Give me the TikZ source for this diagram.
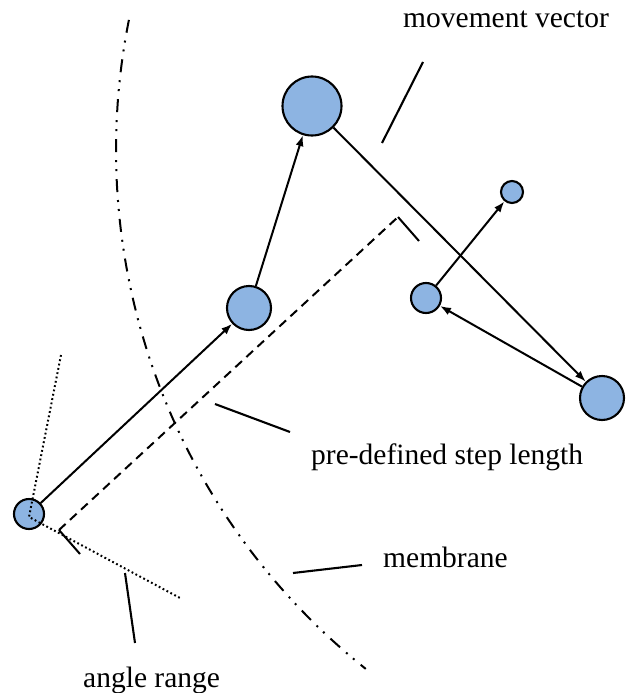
\documentclass[tikz,border=0pt]{standalone}
\usepackage{fontspec}
\setmainfont{Liberation Serif}
\usetikzlibrary{arrows.meta}
\definecolor{cellblue}{RGB}{141,180,226}
\begin{document}
\begin{tikzpicture}[x=1pt,y=-1pt,
  cell/.style={circle,draw=black,line width=2.1pt,fill=cellblue,inner sep=0pt},
  move/.style={line width=2pt,-{Latex[length=11pt,width=8pt]}},
  leader/.style={line width=2.1pt},
  steplen/.style={line width=2pt,dash pattern=on 9pt off 6pt},
  tickline/.style={line width=2pt},
  anglerange/.style={line width=2pt,dash pattern=on 1.8pt off 2.6pt},
  membraneline/.style={line width=2pt,dash pattern=on 13pt off 8pt on 2pt off 7pt on 2pt off 8pt},
  caption/.style={font=\fontsize{29.5}{34}\selectfont,anchor=base west,inner sep=0pt}]
\useasboundingbox (0,0) rectangle (628,693);

% membrane boundary: a dash-dot-dot arc
\draw[membraneline] plot[domain=191.3:128.6,samples=80] ({780+664*cos(\x)},{150+664*sin(\x)});

% cells along the walk
\node[cell,minimum size=30pt] (A) at (29,514) {};
\node[cell,minimum size=44pt] (B) at (249,308) {};
\node[cell,minimum size=59pt] (C) at (312,106) {};
\node[cell,minimum size=22pt] (D) at (512,192) {};
\node[cell,minimum size=30pt] (E) at (426,298) {};
\node[cell,minimum size=44pt] (F) at (602,398) {};

% movement vectors
\draw[move] (A) -- (B);
\draw[move] (B) -- (C);
\draw[move] (C) -- (F);
\draw[move] (F) -- (E);
\draw[move] (E) -- (D);

% step length dimension line
\coordinate (s0) at (59,530);
\coordinate (s1) at (398,217);
\coordinate (t0) at (80,554);
\coordinate (t1) at (419,241);
\draw[steplen] (s0) -- (s1);
\draw[tickline] (t0) -- (s0);
\draw[tickline] (s1) -- (t1);

% angle range
\coordinate (apex) at (29,517);
\coordinate (r1) at (61,355);
\coordinate (r2) at (180,598);
\draw[anglerange] (r1) -- (apex) -- (r2);

% captions and leaders
\node[caption] (mvtxt) at (403,28) {movement vector};
\node[caption] (sltxt) at (311,464) {pre-defined step length};
\node[caption] (mbtxt) at (383,567) {membrane};
\node[caption] (artxt) at (83,687) {angle range};

\coordinate (mv0) at (423,62);
\coordinate (mv1) at (382,143);
\coordinate (sl0) at (215,404);
\coordinate (sl1) at (290,432);
\coordinate (mb0) at (293,573);
\coordinate (mb1) at (362,565);
\coordinate (ar0) at (125,573);
\coordinate (ar1) at (135,643);
\draw[leader] (mv0) -- (mv1);
\draw[leader] (sl0) -- (sl1);
\draw[leader] (mb0) -- (mb1);
\draw[leader] (ar0) -- (ar1);
\end{tikzpicture}
\end{document}
